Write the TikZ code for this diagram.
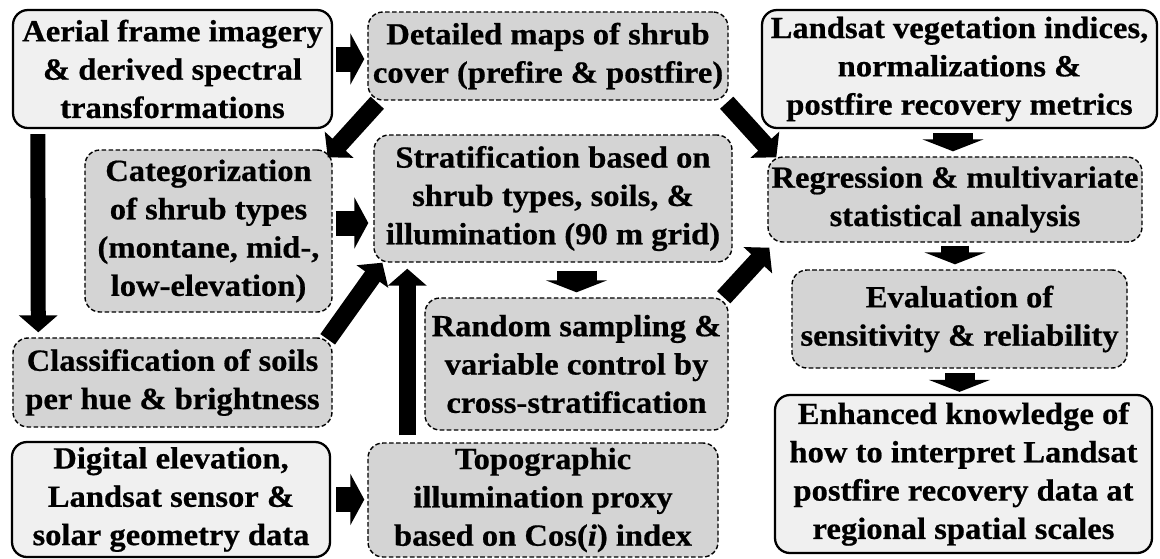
\documentclass[tikz,border=0pt]{standalone}
\usepackage{fontspec}
\newfontfamily\boxfont[FakeStretch=1.06, FakeBold=0.6]{Liberation Serif}
\usepackage{tikz}
\usetikzlibrary{arrows.meta,positioning,calc}

\begin{document}
\begin{tikzpicture}[
      every node/.style={rounded corners=0.3cm, align=center, inner sep=1pt,
        font=\boxfont\bfseries\fontsize{17.5}{21.8}\selectfont},
      inputbox/.style={draw, line width=1.3pt, fill=black!6},
      stepbox/.style={draw, line width=0.8pt, dash pattern=on 2.6pt off 1.4pt, fill=black!17},
      sidearrow/.style={line width=0.5cm, -{Triangle[length=0.28cm, width=1.02cm]}},
      longarrow/.style={line width=#1, -{Triangle[length=0.34cm, width=0.76cm]}},
      longarrow/.default=0.36cm,
      droparrow/.style={line width=#1, -{Triangle[length=0.24cm, width=1.22cm]}}
    ]
    \useasboundingbox (0,0) rectangle (23.2,-11.16);

    % sources
    \node[inputbox, minimum width=6.38cm, minimum height=2.36cm] (aerial) at (3.45,-1.38)
      {Aerial frame imagery\\\& derived spectral\\transformations};
    \node[inputbox, minimum width=7.9cm, minimum height=2.36cm] (indices) at (19.19,-1.38)
      {Landsat vegetation indices,\\normalizations \&\\postfire recovery metrics};
    \node[inputbox, minimum width=6.36cm, minimum height=2.3cm] (dem) at (3.42,-9.99)
      {Digital elevation,\\Landsat sensor \&\\solar geometry data};

    % processing steps
    \node[stepbox, minimum width=7.2cm, minimum height=1.76cm] (maps) at (10.96,-1.12)
      {Detailed maps of shrub\\cover (prefire \& postfire)};
    \node[stepbox, minimum width=4.94cm, minimum height=3.24cm] (shrub) at (4.17,-4.62)
      {Categorization\\of shrub types\\(montane, mid-,\\low-elevation)};
    \node[stepbox, minimum width=7.16cm, minimum height=2.54cm] (strat) at (11.06,-3.97)
      {Stratification based on\\shrub types, soils, \&\\illumination (90 m grid)};
    \node[stepbox, minimum width=7.48cm, minimum height=1.7cm] (regress) at (19.1,-3.99)
      {Regression \& multivariate\\statistical analysis};
    \node[stepbox, minimum width=6.38cm, minimum height=1.78cm] (soils) at (3.45,-7.65)
      {Classification of soils\\per hue \& brightness};
    \node[stepbox, minimum width=6.06cm, minimum height=2.64cm] (random) at (11.53,-7.28)
      {Random sampling \&\\variable control by\\cross-stratification};
    \node[stepbox, minimum width=6.7cm, minimum height=1.96cm] (evaluate) at (19.19,-6.38)
      {Evaluation of\\sensitivity \& reliability};
    \node[stepbox, minimum width=7cm, minimum height=2.28cm] (topo) at (10.86,-10)
      {Topographic\\illumination proxy\\based on Cos(\textit{i}) index};

    % result
    \node[inputbox, minimum width=7.54cm, minimum height=3.16cm] (enhanced) at (19.27,-9.48)
      {Enhanced knowledge of\\how to interpret Landsat\\postfire recovery data at\\regional spatial scales};

    % arrows
    \draw[sidearrow] ([shift={(0.06,0.2)}]aerial.east) -- ([shift={(-0.06,0.2)}]aerial.east -| maps.west);
    \draw[sidearrow] ([shift={(0.06,0.16)}]shrub.east) -- ([shift={(-0.1,0.16)}]shrub.east -| strat.west);
    \draw[sidearrow] ([xshift=0.1cm]dem.east) -- ([xshift=-0.06cm]dem.east -| topo.west);
    \draw[longarrow=0.3cm] ([shift={(0.52,-0.1)}]aerial.south west) -- ([shift={(0.52,0.1)}]soils.north west);
    \draw[longarrow] ([shift={(0.2,-0.04)}]maps.south west) -- ([shift={(-0.1,-0.16)}]shrub.north east);
    \draw[longarrow] ([shift={(-0.04,-0.04)}]maps.south east) -- ([shift={(0.18,-0.02)}]regress.north west);
    \draw[longarrow] ([shift={(-0.1,-0.04)}]soils.north east) -- ([shift={(0.18,0)}]strat.south west);
    \draw[longarrow] ([shift={(-0.1,0)}]random.north east) -- ([shift={(0.04,-0.1)}]regress.south west);
    \draw[longarrow=0.34cm] ([shift={(0.8,0.14)}]topo.north west) -- ([shift={(0.8,-0.12)}]topo.north west |- strat.south);
    \draw[droparrow=0.8cm] ([shift={(-0.13,-0.08)}]indices.south) -- ([shift={(-0.13,0.1)}]indices.south |- regress.north);
    \draw[droparrow=0.8cm] ([yshift=-0.16cm]random.north |- strat.south) -- ([yshift=0.1cm]random.north);
    \draw[droparrow=0.56cm] ([yshift=-0.06cm]regress.south) -- ([yshift=0.1cm]regress.south |- evaluate.north);
    \draw[droparrow=0.6cm] ([yshift=-0.08cm]evaluate.south) -- ([yshift=0.04cm]evaluate.south |- enhanced.north);
  \end{tikzpicture}
\end{document}
